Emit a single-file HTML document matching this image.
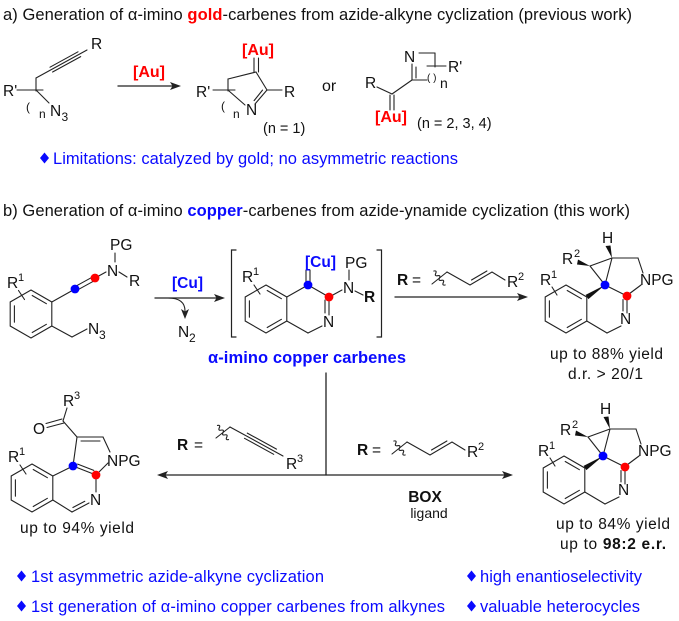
<!DOCTYPE html>
<html><head><meta charset="utf-8">
<style>
html,body{margin:0;padding:0;background:#fff;}
svg{display:block;}
text{font-family:"Liberation Sans",Arial,sans-serif;fill:#111;}
.b{fill:#0a0aff;}
.r{fill:#ff0000;}
.lb{font-size:15.5px;}
.sup{font-size:11px;}
</style></head><body>
<svg width="679" height="621" viewBox="0 0 679 621" xmlns="http://www.w3.org/2000/svg">

<!-- ===== Section a ===== -->
<text x="3" y="20" font-size="16.5" textLength="629">a) Generation of α-imino <tspan font-weight="bold" class="r" style="fill:#ff0000">gold</tspan>-carbenes from azide-alkyne cyclization (previous work)</text>

<g stroke="#222" stroke-width="1.1" fill="none" stroke-linecap="round">
  <!-- SM a -->
  <line x1="36" y1="78" x2="87" y2="50"/>
  <line x1="52.6" y1="72" x2="80.7" y2="56.6"/>
  <line x1="50" y1="67.2" x2="78" y2="51.8"/>
  <line x1="36" y1="78" x2="36" y2="91"/>
  <line x1="17" y1="90" x2="43" y2="90"/>
  <line x1="36" y1="90" x2="49" y2="103"/>
  <!-- arrow a -->
  <line x1="118" y1="86" x2="174" y2="86" stroke-width="1.3"/>
  <!-- product 1 -->
  <line x1="254" y1="58" x2="254" y2="72"/>
  <line x1="258.5" y1="58" x2="258.5" y2="72"/>
  <line x1="228" y1="79" x2="256" y2="72"/>
  <line x1="256" y1="72" x2="267" y2="90"/>
  <line x1="267" y1="90" x2="282" y2="90"/>
  <line x1="267" y1="90" x2="255" y2="104"/>
  <line x1="262.5" y1="90.1" x2="254.1" y2="100.6"/>
  <line x1="228" y1="79" x2="228" y2="91"/>
  <line x1="213" y1="90" x2="235" y2="90"/>
  <line x1="229" y1="91" x2="245" y2="105"/>
  <!-- product 2 -->
  <line x1="377" y1="87" x2="392" y2="94"/>
  <line x1="390" y1="95" x2="390" y2="110"/>
  <line x1="394" y1="95" x2="394" y2="110"/>
  <line x1="392" y1="94" x2="412" y2="80"/>
  <line x1="412" y1="80" x2="412" y2="64"/>
  <line x1="416" y1="67" x2="416" y2="78"/>
  <line x1="419" y1="53" x2="435" y2="53"/>
  <line x1="435" y1="53" x2="435" y2="67"/>
  <line x1="427" y1="66" x2="446" y2="66"/>
  <line x1="412" y1="80" x2="427" y2="80"/>
</g>
<polygon points="181,86 170,82 172.5,86 170,90" fill="#222"/>

<text x="91" y="49" class="lb">R</text>
<text x="3" y="96" class="lb">R'</text>
<text x="26" y="111" font-size="12">(</text>
<text x="39" y="118" font-size="12">n</text>
<text x="50" y="116" class="lb">N</text><text x="61.5" y="121" font-size="12">3</text>
<text x="133" y="77" font-size="16" font-weight="bold" style="fill:#ff0000">[Au]</text>

<text x="242" y="55" font-size="16" font-weight="bold" style="fill:#ff0000">[Au]</text>
<text x="284" y="97" class="lb">R</text>
<text x="246" y="115" class="lb">N</text>
<text x="196" y="97" class="lb">R'</text>
<text x="221" y="110" font-size="12">(</text>
<text x="233" y="118" font-size="12">n</text>
<text x="263" y="133" font-size="14.5">(n = 1)</text>
<text x="322" y="91" font-size="16">or</text>

<text x="365" y="88" class="lb">R</text>
<text x="375" y="122" font-size="16" font-weight="bold" style="fill:#ff0000">[Au]</text>
<text x="404" y="62" class="lb">N</text>
<text x="448" y="72" class="lb">R'</text>
<text x="427" y="81" font-size="10">( )</text>
<text x="440" y="88" font-size="14">n</text>
<text x="417" y="128" font-size="14.5">(n = 2, 3, 4)</text>

<polygon points="44.5,152.5 49,158 44.5,163.5 40,158" fill="#0a0aff"/>
<text x="53" y="164" font-size="16.5" class="b" textLength="405">Limitations: catalyzed by gold; no asymmetric reactions</text>

<!-- ===== Section b ===== -->
<text x="3" y="216" font-size="16.5" textLength="627">b) Generation of α-imino <tspan font-weight="bold" style="fill:#0a0aff">copper</tspan>-carbenes from azide-ynamide cyclization (this work)</text>

<g stroke="#222" stroke-width="1.1" fill="none" stroke-linecap="round">
  <!-- SM b benzene -->
  <g transform="translate(31,314)">
    <polygon points="0,-24 20.8,-12 20.8,12 0,24 -20.8,12 -20.8,-12"/>
    <path d="M1.2,-18.5L15.4,-10.3M15.4,10.3L1.2,18.5M-16.6,8.2L-16.6,-8.2"/>
  </g>
  <line x1="18.5" y1="290.5" x2="24.5" y2="299.5"/>
  <line x1="51.8" y1="302" x2="75" y2="289"/>
  <line x1="76" y1="290.8" x2="96" y2="279.8"/>
  <line x1="74" y1="287.2" x2="94" y2="276.2"/>
  <line x1="95" y1="278" x2="106" y2="272"/>
  <line x1="115" y1="253" x2="115" y2="262"/>
  <line x1="119" y1="272" x2="127" y2="277"/>
  <line x1="51.8" y1="326" x2="72" y2="337"/>
  <line x1="72" y1="337" x2="87" y2="329"/>
  <!-- Cu arrow -->
  <line x1="155" y1="298" x2="219" y2="298" stroke-width="1.3"/>
  <path d="M168,298 C180,298 185,303 185,311"/>
  <!-- brackets -->
  <path d="M236,250 H231.5 V337 H236" stroke-width="1.2"/>
  <path d="M377,250 H381.5 V337 H377" stroke-width="1.2"/>
  <!-- intermediate -->
  <g transform="translate(266,309)">
    <polygon points="0,-24 20.8,-12 20.8,12 0,24 -20.8,12 -20.8,-12"/>
    <path d="M1.2,-18.5L15.4,-10.3M15.4,10.3L1.2,18.5M-16.6,8.2L-16.6,-8.2"/>
  </g>
  <line x1="254" y1="285" x2="260" y2="294"/>
  <line x1="286.8" y1="297" x2="308" y2="285"/>
  <line x1="308" y1="285" x2="329" y2="297"/>
  <line x1="306" y1="270" x2="306" y2="285"/>
  <line x1="310" y1="270" x2="310" y2="285"/>
  <line x1="329" y1="297" x2="329" y2="315"/>
  <line x1="325" y1="300" x2="325" y2="313"/>
  <line x1="322" y1="326" x2="308" y2="333"/>
  <line x1="308" y1="333" x2="286.8" y2="321"/>
  <line x1="331" y1="296" x2="342" y2="290"/>
  <line x1="349" y1="270" x2="349" y2="280"/>
  <line x1="355" y1="291" x2="363" y2="295"/>
  <!-- right arrow top -->
  <line x1="395" y1="297" x2="522" y2="297" stroke-width="1.3"/>
  <!-- allyl label top -->
  <g>
    <line x1="432" y1="284" x2="447" y2="272"/>
    <path d="M0,-9 q3,1.5 0,3 q-3,1.5 0,3 q3,1.5 0,3 q-3,1.5 0,3 q3,1.5 0,3 q-3,1.5 0,3" transform="translate(439.5,278) rotate(-39)"/>
    <polyline points="447,272 470,285 492,272 505,280"/>
    <line x1="471.5" y1="280" x2="486.9" y2="271"/>
  </g>
  <!-- allyl label bottom right (translated) -->
  <g transform="translate(-40,170)">
    <line x1="432" y1="284" x2="447" y2="272"/>
    <path d="M0,-9 q3,1.5 0,3 q-3,1.5 0,3 q3,1.5 0,3 q-3,1.5 0,3 q3,1.5 0,3 q-3,1.5 0,3" transform="translate(439.5,278) rotate(-39)"/>
    <polyline points="447,272 470,285 492,272 505,280"/>
    <line x1="471.5" y1="280" x2="486.9" y2="271"/>
  </g>
  <!-- propargyl label -->
  <line x1="216" y1="438" x2="230" y2="427"/>
  <path d="M0,-9 q3,1.5 0,3 q-3,1.5 0,3 q3,1.5 0,3 q-3,1.5 0,3 q3,1.5 0,3 q-3,1.5 0,3" transform="translate(223,432.5) rotate(-38)"/>
  <line x1="230" y1="427" x2="283" y2="456"/>
  <line x1="244.5" y1="438.3" x2="273.7" y2="454.3"/>
  <line x1="247.3" y1="433.1" x2="276.5" y2="449.1"/>
  <!-- vertical + bottom arrows -->
  <line x1="326" y1="373" x2="326" y2="475" stroke-width="1.3"/>
  <line x1="163" y1="475" x2="507" y2="475" stroke-width="1.3"/>
  <!-- bottom-left product -->
  <g transform="translate(32,488)">
    <polygon points="0,-24 20.8,-12 20.8,12 0,24 -20.8,12 -20.8,-12"/>
    <path d="M1.2,-18.5L15.4,-10.3M15.4,10.3L1.2,18.5M-16.6,8.2L-16.6,-8.2"/>
  </g>
  <line x1="20" y1="465" x2="26" y2="474"/>
  <line x1="52.8" y1="476" x2="73" y2="466"/>
  <line x1="73" y1="466" x2="77" y2="437"/>
  <line x1="77" y1="437" x2="103" y2="437"/>
  <line x1="81" y1="441" x2="100" y2="441"/>
  <line x1="103" y1="437" x2="110" y2="452"/>
  <line x1="108" y1="463" x2="97" y2="474"/>
  <line x1="73" y1="466" x2="96" y2="475"/>
  <line x1="77.7" y1="464.1" x2="93.8" y2="470.4"/>
  <line x1="96" y1="475" x2="96" y2="492"/>
  <line x1="52.8" y1="500" x2="72" y2="512"/>
  <line x1="72" y1="512" x2="89" y2="503"/>
  <line x1="72.9" y1="507.5" x2="84.8" y2="501.3"/>
  <line x1="77" y1="437" x2="63" y2="421"/>
  <line x1="63" y1="421" x2="67" y2="408"/>
  <line x1="62" y1="419" x2="46" y2="423.5"/>
  <line x1="64" y1="423" x2="47" y2="427.5"/>
</g>

<!-- arrowheads b -->
<polygon points="225,298 214,294 216.5,298 214,302" fill="#222"/>
<polygon points="185,319 181,309 185,311.5 189,309" fill="#222"/>
<polygon points="528,297 517,293 519.5,297 517,301" fill="#222"/>
<polygon points="157,475 168,471 165.5,475 168,479" fill="#222"/>
<polygon points="513,475 502,471 504.5,475 502,479" fill="#222"/>

<!-- SM b labels -->
<text x="7" y="288" class="lb">R</text><text x="18" y="281" class="sup">1</text>
<text x="110" y="250" class="lb">PG</text>
<text x="107" y="276" class="lb">N</text>
<text x="129" y="286" class="lb">R</text>
<text x="88" y="334" class="lb">N</text><text x="99" y="339" font-size="12">3</text>
<circle cx="75" cy="289" r="4.4" fill="#0000ff"/>
<circle cx="95" cy="278" r="4.4" fill="#ff0000"/>
<text x="172" y="288" class="lb" font-weight="bold" style="fill:#0a0aff">[Cu]</text>
<text x="178" y="337" class="lb">N</text><text x="189" y="342" font-size="12">2</text>

<!-- intermediate labels -->
<text x="242" y="282" class="lb">R</text><text x="253" y="275" class="sup">1</text>
<text x="305" y="267" class="lb" font-weight="bold" style="fill:#0a0aff">[Cu]</text>
<text x="323" y="327" class="lb">N</text>
<text x="343" y="293" class="lb">N</text>
<text x="345" y="268" class="lb">PG</text>
<text x="364" y="302" class="lb" font-weight="bold">R</text>
<circle cx="308" cy="285" r="4.4" fill="#0000ff"/>
<circle cx="329" cy="297" r="4.4" fill="#ff0000"/>
<text x="208" y="363" font-size="16.5" font-weight="bold" style="fill:#0a0aff" textLength="198">α-imino copper carbenes</text>

<!-- top arrow label -->
<text x="397" y="285" class="lb" font-weight="bold">R</text><text x="412" y="285" class="lb">=</text>
<text x="507" y="287" class="lb">R</text><text x="518" y="280" class="sup">2</text>

<!-- product top-right -->
<g id="ptr">
  <g stroke="#222" stroke-width="1.1" fill="none" stroke-linecap="round">
    <g transform="translate(566,309)">
      <polygon points="0,-24 20.8,-12 20.8,12 0,24 -20.8,12 -20.8,-12"/>
      <path d="M1.2,-18.5L15.4,-10.3M15.4,10.3L1.2,18.5M-16.6,8.2L-16.6,-8.2"/>
    </g>
    <line x1="552" y1="287" x2="557" y2="295"/>
    <line x1="605" y1="285" x2="627" y2="296"/>
    <line x1="627" y1="296" x2="627" y2="313"/>
    <line x1="623" y1="299.5" x2="623" y2="311"/>
    <line x1="621" y1="326" x2="607" y2="333"/>
    <line x1="607" y1="333" x2="586.8" y2="321"/>
    <line x1="629" y1="294" x2="641" y2="285"/>
    <line x1="643" y1="273" x2="638" y2="258"/>
    <line x1="638" y1="258" x2="612" y2="258"/>
    <line x1="612" y1="258" x2="590" y2="266"/>
    <line x1="590" y1="266" x2="605" y2="285"/>
    <line x1="612" y1="258" x2="605" y2="285"/>
  </g>
  <polygon points="605,285 585.6,294.9 588.4,299.1" fill="#111"/>
  <polygon points="612,258 605.5,246 610.5,245.5" fill="#111"/>
  <polygon points="590,266 578,259.5 577,264.5" fill="#111"/>
  <text x="602" y="243" class="lb">H</text>
  <text x="562" y="264" class="lb">R</text><text x="574" y="257" class="sup">2</text>
  <text x="540" y="285" class="lb">R</text><text x="551" y="278" class="sup">1</text>
  <text x="640" y="285" class="lb">NPG</text>
  <text x="620" y="324" class="lb">N</text>
  <circle cx="605" cy="285" r="4.4" fill="#0000ff"/>
  <circle cx="627" cy="296" r="4.4" fill="#ff0000"/>
</g>
<text x="550" y="359" font-size="15.5" textLength="113">up to 88% yield</text>
<text x="568" y="379" font-size="15.5" textLength="75">d.r. &gt; 20/1</text>

<!-- product bottom-right (same structure translated) -->
<g transform="translate(-2,171)">
  <g stroke="#222" stroke-width="1.1" fill="none" stroke-linecap="round">
    <g transform="translate(566,309)">
      <polygon points="0,-24 20.8,-12 20.8,12 0,24 -20.8,12 -20.8,-12"/>
      <path d="M1.2,-18.5L15.4,-10.3M15.4,10.3L1.2,18.5M-16.6,8.2L-16.6,-8.2"/>
    </g>
    <line x1="552" y1="287" x2="557" y2="295"/>
    <line x1="605" y1="285" x2="627" y2="296"/>
    <line x1="627" y1="296" x2="627" y2="313"/>
    <line x1="623" y1="299.5" x2="623" y2="311"/>
    <line x1="621" y1="326" x2="607" y2="333"/>
    <line x1="607" y1="333" x2="586.8" y2="321"/>
    <line x1="629" y1="294" x2="641" y2="285"/>
    <line x1="643" y1="273" x2="638" y2="258"/>
    <line x1="638" y1="258" x2="612" y2="258"/>
    <line x1="612" y1="258" x2="590" y2="266"/>
    <line x1="590" y1="266" x2="605" y2="285"/>
    <line x1="612" y1="258" x2="605" y2="285"/>
  </g>
  <polygon points="605,285 585.6,294.9 588.4,299.1" fill="#111"/>
  <polygon points="612,258 605.5,246 610.5,245.5" fill="#111"/>
  <polygon points="590,266 578,259.5 577,264.5" fill="#111"/>
  <text x="602" y="243" class="lb">H</text>
  <text x="562" y="264" class="lb">R</text><text x="574" y="257" class="sup">2</text>
  <text x="540" y="285" class="lb">R</text><text x="551" y="278" class="sup">1</text>
  <text x="640" y="285" class="lb">NPG</text>
  <text x="620" y="324" class="lb">N</text>
  <circle cx="605" cy="285" r="4.4" fill="#0000ff"/>
  <circle cx="627" cy="296" r="4.4" fill="#ff0000"/>
</g>
<text x="556" y="529" font-size="15.5" textLength="114">up to 84% yield</text>
<text x="560" y="549" font-size="15.5" textLength="106">up to <tspan font-weight="bold">98:2 e.r.</tspan></text>

<!-- bottom-right arrow labels -->
<text x="357" y="455" class="lb" font-weight="bold">R</text><text x="372" y="455" class="lb">=</text>
<text x="467" y="457" class="lb">R</text><text x="478" y="450" class="sup">2</text>
<text x="425" y="502" class="lb" font-weight="bold" text-anchor="middle">BOX</text>
<text x="429" y="518" font-size="14" text-anchor="middle">ligand</text>

<!-- left arrow labels -->
<text x="177" y="450" class="lb" font-weight="bold">R</text><text x="194" y="450" class="lb">=</text>
<text x="286" y="469" class="lb">R</text><text x="297" y="462" class="sup">3</text>

<!-- bottom-left product labels -->
<text x="8" y="462" class="lb">R</text><text x="19" y="455" class="sup">1</text>
<text x="63" y="406" class="lb">R</text><text x="74" y="399" class="sup">3</text>
<text x="33" y="434" class="lb">O</text>
<text x="107" y="466" class="lb">NPG</text>
<text x="90" y="505" class="lb">N</text>
<circle cx="73" cy="466" r="4.4" fill="#0000ff"/>
<circle cx="96" cy="475" r="4.4" fill="#ff0000"/>
<text x="20" y="533" font-size="15.5" textLength="114">up to 94% yield</text>

<!-- bullets -->
<polygon points="21.5,570.5 26,576 21.5,581.5 17,576" fill="#0a0aff"/>
<text x="31" y="582" font-size="16.5" class="b" textLength="293">1st asymmetric azide-alkyne cyclization</text>
<polygon points="21.5,600.5 26,606 21.5,611.5 17,606" fill="#0a0aff"/>
<text x="31" y="612" font-size="16.5" class="b" textLength="414">1st generation of α-imino copper carbenes from alkynes</text>
<polygon points="471.5,570.5 476,576 471.5,581.5 467,576" fill="#0a0aff"/>
<text x="480" y="582" font-size="16.5" class="b" textLength="162">high enantioselectivity</text>
<polygon points="471.5,600.5 476,606 471.5,611.5 467,606" fill="#0a0aff"/>
<text x="480" y="612" font-size="16.5" class="b" textLength="160">valuable heterocycles</text>

</svg>
</body></html>
